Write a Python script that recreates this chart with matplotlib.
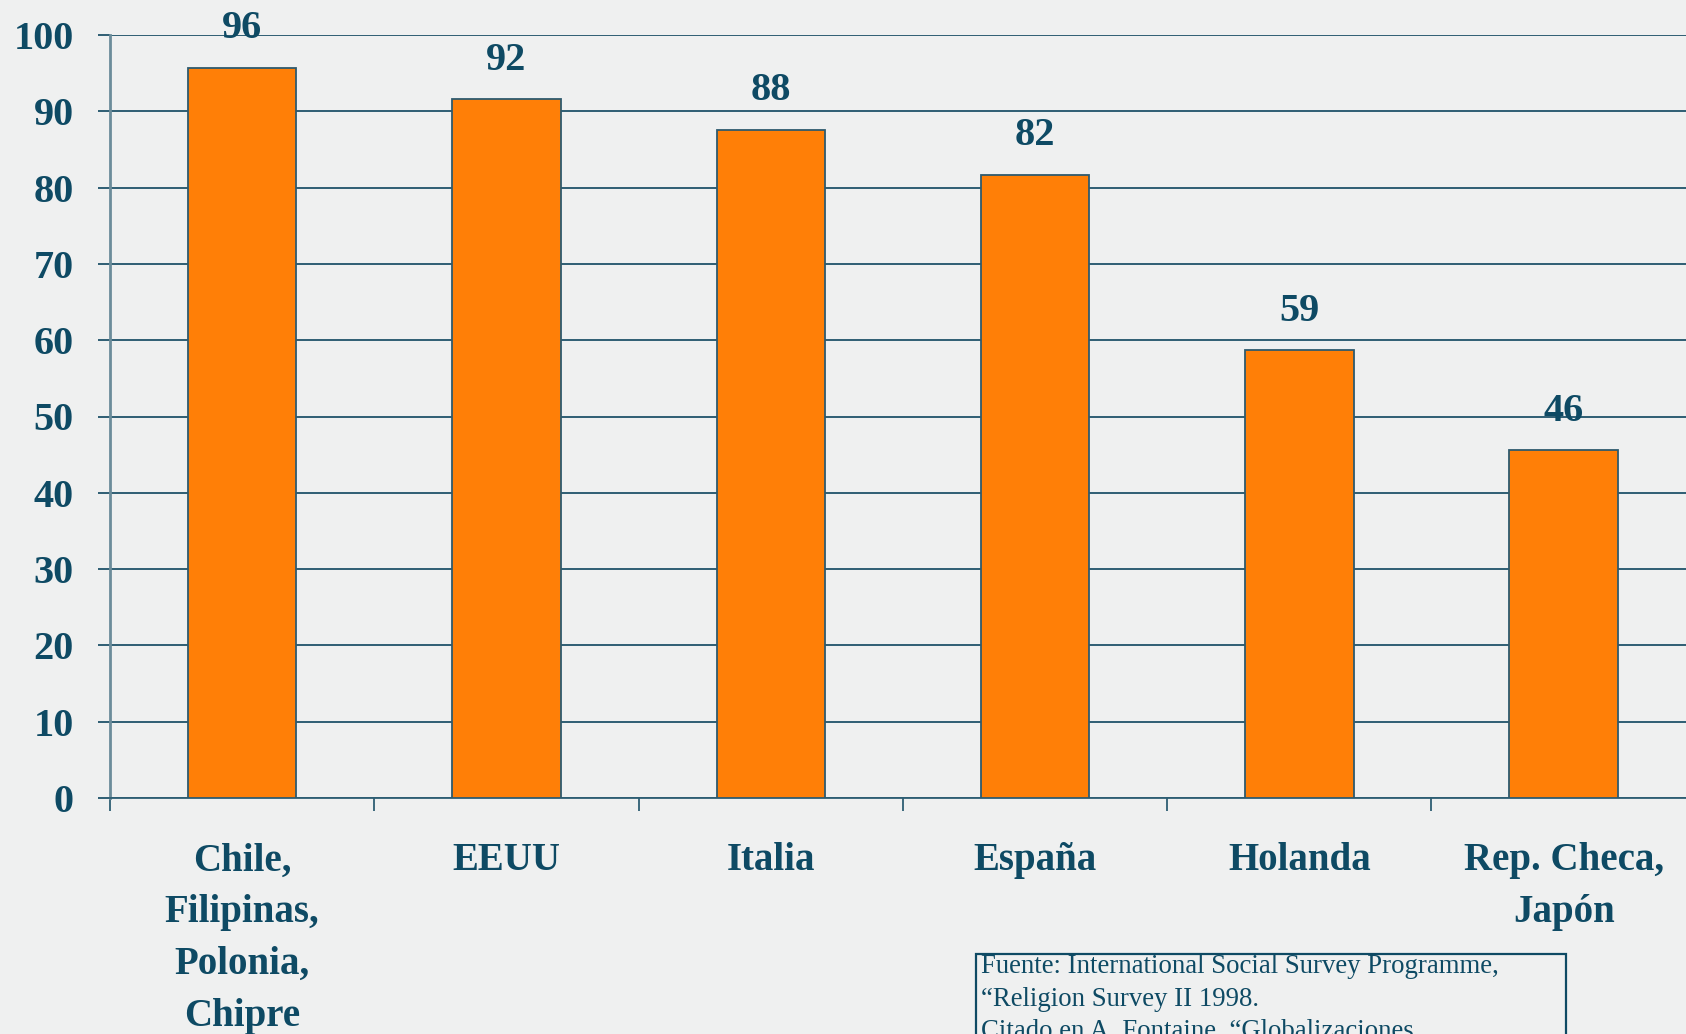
import numpy as np
import matplotlib
matplotlib.use("Agg")
import matplotlib.pyplot as plt
from matplotlib.patches import Rectangle

# datos
categorias = ["Chile,\nFilipinas,\nPolonia,\nChipre", "EEUU", "Italia",
              "España", "Holanda", "Rep. Checa,\nJapón"]
valores = [95.7, 91.6, 87.6, 81.7, 58.7, 45.6]
etiquetas = ["96", "92", "88", "82", "59", "46"]
yticks = list(range(0, 101, 10))
fuente = ("Fuente: International Social Survey Programme,\n"
          "\u201cReligion Survey II 1998.\n"
          "Citado en A. Fontaine, \u201cGlobalizaciones")

fondo = "#EFF0F0"
naranja = "#FF7F07"
azul = "#0E4A64"
rejilla = "#2E5E73"

plt.rcParams["font.family"] = ["Liberation Serif", "DejaVu Serif"]

W, H = 1686, 1034
fig = plt.figure(figsize=(W / 100, H / 100), dpi=100, facecolor=fondo)
ax = fig.add_axes([110 / W, 1 - 798 / H, 1 - 110 / W, (798 - 35) / H])
ax.set_facecolor(fondo)

x = np.arange(len(categorias))
ax.bar(x, valores, width=0.41, color=naranja, edgecolor="#2E5A6E", linewidth=1.3, zorder=3)

for xi, v, t in zip(x, valores, etiquetas):
    ax.annotate(t, (xi, v), xytext=(0, 28), textcoords="offset points",
                ha="center", va="center", fontsize=29, fontweight="bold", color=azul)

ax.set_ylim(0, 100)
ax.set_xlim(-0.5, 5.463)
ax.set_yticks(yticks)
ax.set_yticklabels([str(t) for t in yticks], fontsize=29, fontweight="bold", color=azul)
ax.yaxis.grid(True, color=rejilla, linewidth=1.4, zorder=0)
ax.tick_params(axis="y", length=9, width=1.4, color=rejilla, pad=17)

ax.set_xticks(np.arange(-0.5, 5.5, 1.0))
ax.set_xticklabels([])
ax.tick_params(axis="x", which="major", length=9, width=1.3, color=rejilla)
ax.set_xticks(x, minor=True)
ax.set_xticklabels(categorias, minor=True, fontsize=28, fontweight="bold",
                   color=azul, linespacing=1.53, va="top")
ax.tick_params(axis="x", which="minor", length=0, pad=32)

for s in ["top", "right"]:
    ax.spines[s].set_visible(False)
ax.spines["left"].set_color("#6B8C9A")
ax.spines["left"].set_linewidth(2)
ax.spines["bottom"].set_color(rejilla)
ax.spines["bottom"].set_linewidth(1.3)

# recuadro de la fuente (sale por abajo de la figura)
fig.patches.append(Rectangle((976 / W, -0.05), (1566 - 976) / W, 0.05 + 1 - 954 / H,
                             transform=fig.transFigure, facecolor="none",
                             edgecolor=azul, linewidth=1.6))
fig.text(981 / W, 1 - 954 / H, fuente, ha="left", va="top", fontsize=19.3,
         color=azul, linespacing=1.4)

fig.savefig("out.png", dpi=100, facecolor=fondo)
